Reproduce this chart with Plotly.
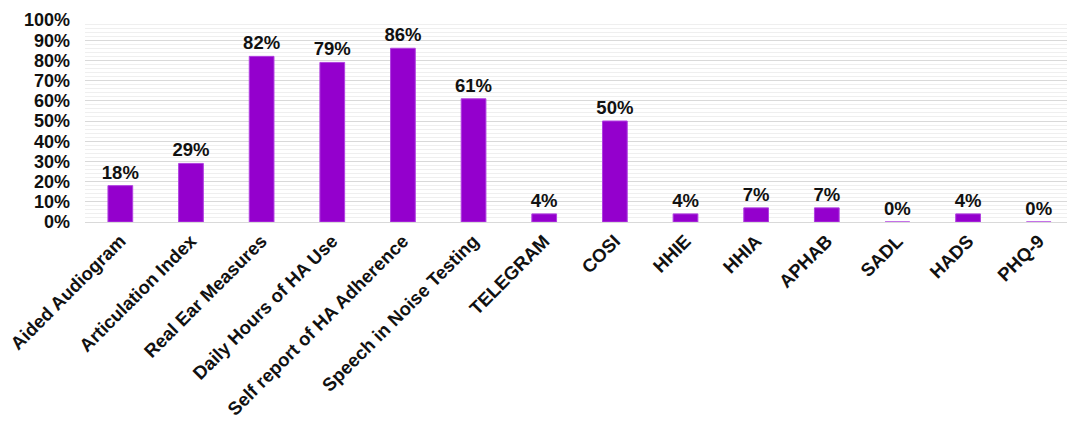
import plotly.graph_objects as go

categories = [
    "Aided Audiogram", "Articulation Index", "Real Ear Measures",
    "Daily Hours of HA Use", "Self report of HA Adherence",
    "Speech in Noise Testing", "TELEGRAM", "COSI", "HHIE", "HHIA",
    "APHAB", "SADL", "HADS", "PHQ-9",
]
percent_used = [18, 29, 82, 79, 86, 61, 4, 50, 4, 7, 7, 0, 4, 0]
y_ticks = list(range(0, 101, 10))
y_tick_labels = [f"{v}%" for v in y_ticks]

FONT = "Liberation Sans, Arial, sans-serif"
BAR_COLOR = "#9400CD"

fig = go.Figure(
    go.Bar(
        x=categories,
        y=percent_used,
        width=0.35,
        marker=dict(color=BAR_COLOR, line=dict(color="#b040e0", width=1)),
        text=[f"{v}%" for v in percent_used],
        textposition="outside",
        constraintext="none",
        textfont=dict(family=FONT, size=18.5, color="#111111", weight="bold"),
        cliponaxis=False,
    )
)

fig.update_layout(
    width=1067,
    height=423,
    margin=dict(l=85, r=0, t=20, b=201),
    paper_bgcolor="white",
    plot_bgcolor="white",
    showlegend=False,
)

fig.update_xaxes(
    type="category",
    range=[-0.5, 13.4],
    tickangle=-45,
    tickfont=dict(family=FONT, size=18.5, color="#111111", weight="bold"),
    showgrid=False,
    showline=True,
    linecolor="#d9d9d9",
    linewidth=1,
    ticks="",
    automargin=False,
)

fig.update_yaxes(
    range=[0, 100],
    tickvals=y_ticks,
    ticktext=y_tick_labels,
    tickfont=dict(family=FONT, size=18, color="#111111", weight="bold"),
    ticklabelstandoff=14,
    showgrid=True,
    gridcolor="#d9d9d9",
    gridwidth=1,
    minor=dict(dtick=2, showgrid=True, gridcolor="#efefef", gridwidth=1),
    zeroline=False,
    showline=False,
    automargin=False,
)

fig.write_html("out.html")
